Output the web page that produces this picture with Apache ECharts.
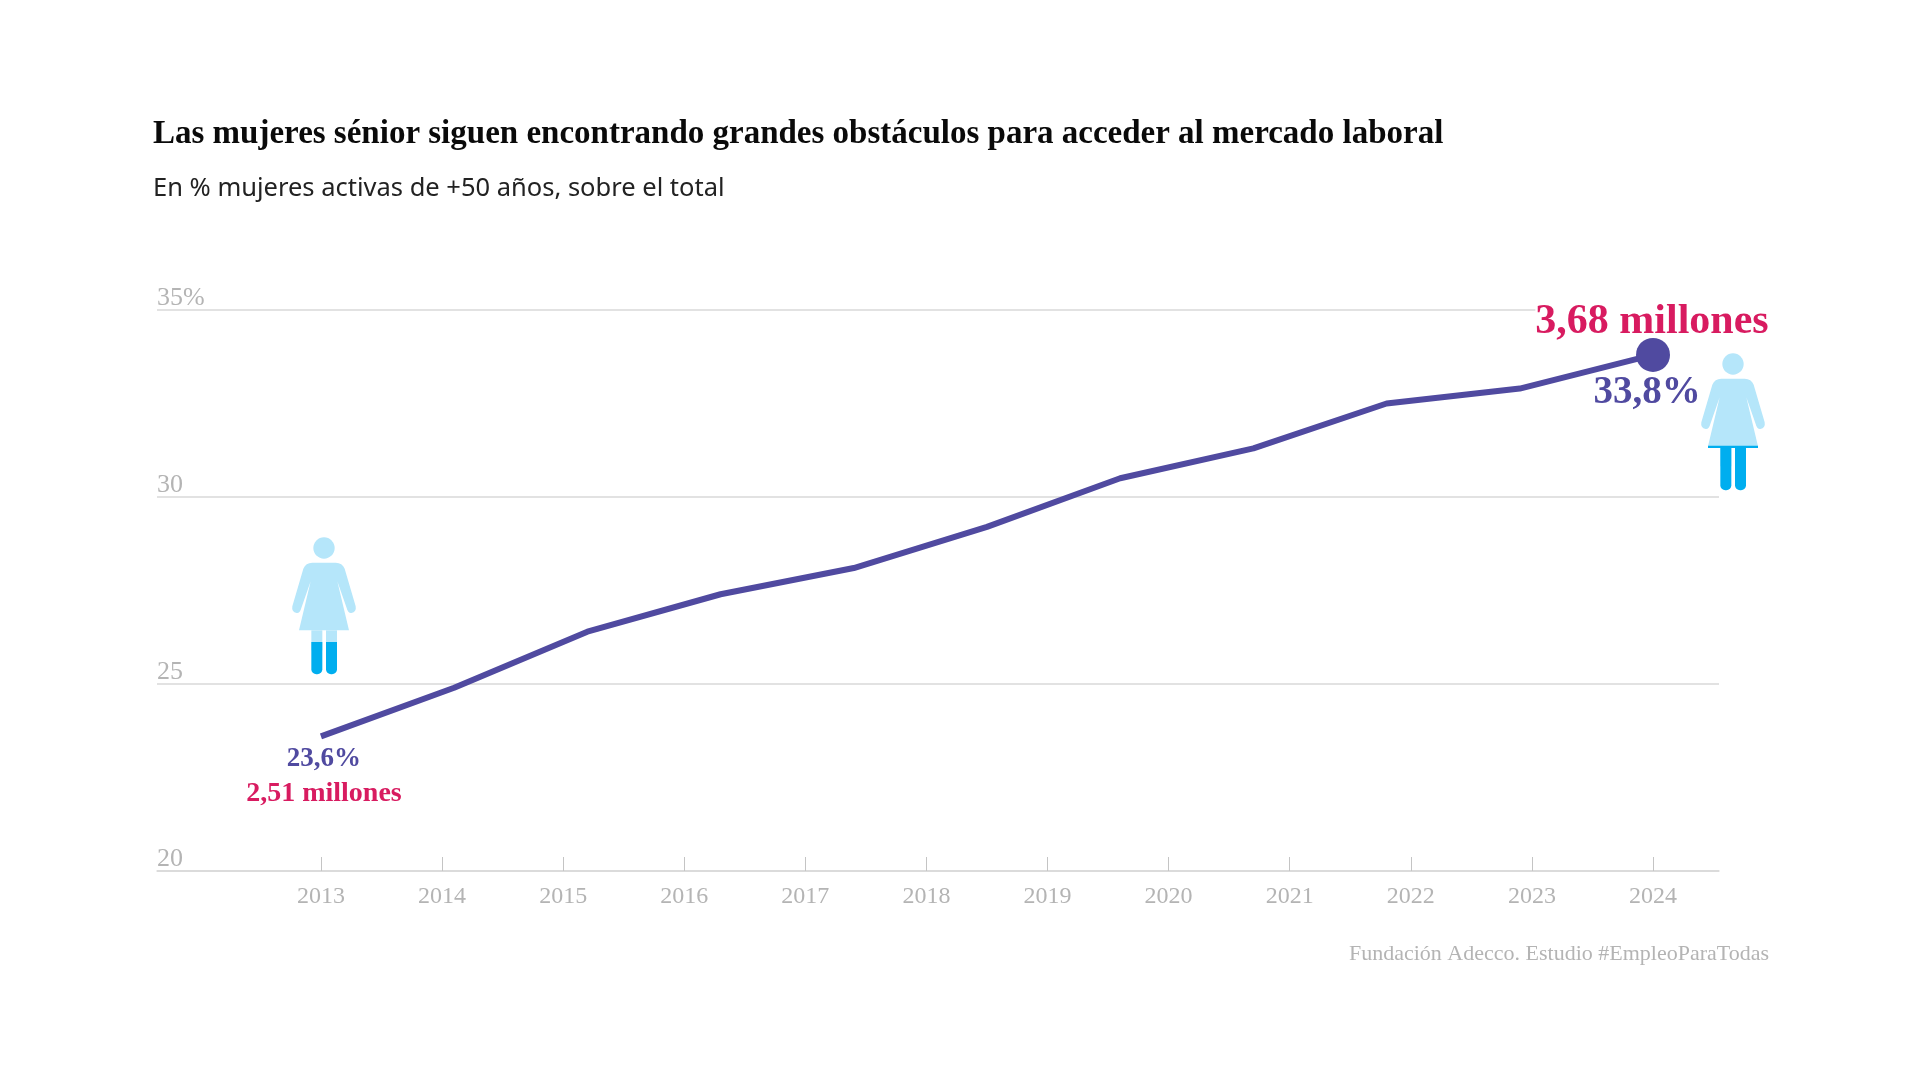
<!DOCTYPE html>
<html>
<head>
<meta charset="utf-8">
<title>Mujeres sénior</title>
<script src="https://cdn.jsdelivr.net/npm/echarts@6/dist/echarts.min.js"></script>
<style>
html, body { margin: 0; background: #fff; }
#main { width: 1920px; height: 1080px; }
</style>
</head>
<body>
<div id="main"></div>
<script type="text/javascript">
// Ticks del eje
var tickYears = [2013, 2014, 2015, 2016, 2017, 2018, 2019, 2020, 2021, 2022, 2023, 2024];
// La linea tiene 11 puntos repartidos entre 2013 y 2024, no caen sobre los ticks
var pointYears = [2013, 2014.1, 2015.2, 2016.3, 2017.4, 2018.5, 2019.6, 2020.7, 2021.8, 2022.9, 2024];
var shares = [23.6, 24.9, 26.4, 27.4, 28.1, 29.2, 30.5, 31.3, 32.5, 32.9, 33.8];

var endYears = [2013, 2024];
var endShares = [23.6, 33.8];
var endShareLabels = ['23,6%', '33,8%'];
var endMillions = ['2,51 millones', '3,68 millones'];

var PURPLE = '#504aa0';
var PINK = '#d81b60';
var GREY = '#b4b4b4';
var RULE = '#d9d9d9';
var LIGHT = '#b5e6fa';
var DARK = '#00aeef';
var SERIF = '"Liberation Serif", serif';

var dress = 'M-35 44 L35 44 Q55 44 62 62 L95 175 Q98 192 82 195 Q72 196 68 180 L40 100 L75 247 ' +
    'L-75 247 L-40 100 L-68 180 Q-72 196 -82 195 Q-98 192 -95 175 L-62 62 Q-55 44 -35 44 Z';
echarts.graphic.registerShape('dress', echarts.graphic.extendPath(dress, {}));

// Figura de mujer: las piernas se rellenan desde legFrom hasta abajo
function woman(x, y, legFrom, hem) {
    var kids = [
        { type: 'circle', shape: { cx: 0, cy: 0, r: 32 }, style: { fill: LIGHT } },
        { type: 'dress', style: { fill: LIGHT } }
    ];
    [-38, 6].forEach(function (left) {
        kids.push({ type: 'rect', shape: { x: left, y: 247, width: 33, height: 60 }, style: { fill: LIGHT } });
        kids.push({ type: 'rect', shape: { x: left, y: legFrom, width: 33, height: 379 - legFrom, r: [0, 0, 15, 15] }, style: { fill: DARK } });
    });
    if (hem) {
        kids.push({ type: 'rect', shape: { x: -75, y: 245, width: 150, height: 7 }, style: { fill: DARK } });
    }
    return { type: 'group', x: x, y: y, scaleX: 1 / 3, scaleY: 1 / 3, children: kids };
}

var myChart = echarts.init(document.getElementById('main'));

myChart.setOption({
    backgroundColor: '#fff',
    animation: false,
    title: [
        {
            text: 'Las mujeres sénior siguen encontrando grandes obstáculos para acceder al mercado laboral',
            left: 148, top: 113,
            textStyle: { fontFamily: SERIF, fontWeight: 'bold', fontSize: 33, color: '#0a0a0a' }
        },
        {
            text: 'En % mujeres activas de +50 años, sobre el total',
            left: 148, top: 171,
            textStyle: { fontFamily: '"Noto Sans", sans-serif', fontWeight: 'normal', fontSize: 25.5, color: '#222' }
        },
        {
            text: 'Fundación Adecco. Estudio #EmpleoParaTodas',
            right: 146, top: 938,
            textStyle: { fontFamily: SERIF, fontWeight: 'normal', fontSize: 22, color: GREY }
        }
    ],
    grid: { left: 157, right: 201, top: 310, bottom: 209 },
    xAxis: {
        type: 'value',
        min: 2011.646,
        max: 2024.545,
        splitLine: { show: false },
        axisLine: { lineStyle: { color: RULE, width: 1.5 } },
        axisTick: { inside: true, length: 14, customValues: tickYears, lineStyle: { color: '#c4c4c4', width: 1 } },
        axisLabel: {
            customValues: tickYears,
            margin: 14,
            formatter: function (v) { return String(v); },
            fontFamily: SERIF, fontSize: 24, color: GREY
        }
    },
    yAxis: {
        type: 'value',
        min: 20,
        max: 35,
        interval: 5,
        axisLine: { show: false },
        axisTick: { show: false },
        splitLine: { lineStyle: { color: RULE, width: 1.5 } },
        axisLabel: {
            inside: true,
            margin: 0,
            align: 'left',
            verticalAlign: 'bottom',
            lineHeight: 23,
            formatter: function (v) { return v === 35 ? '35%' : String(v); },
            fontFamily: SERIF, fontSize: 26, color: GREY
        }
    },
    series: [
        {
            type: 'line',
            data: pointYears.map(function (y, i) { return [y, shares[i]]; }),
            showSymbol: false,
            smooth: false,
            lineStyle: { color: PURPLE, width: 6, cap: 'butt', join: 'round' },
            z: 3
        },
        {
            // Punto final y etiqueta de millones
            type: 'scatter',
            data: endYears.map(function (y, i) {
                return {
                    value: [y, endShares[i]],
                    symbolSize: i === 0 ? 0 : 34,
                    label: {
                        formatter: endMillions[i],
                        fontSize: i === 0 ? 28 : 42,
                        lineHeight: i === 0 ? 30 : 32,
                        offset: i === 0 ? [3, 57] : [-1, -33],
                        backgroundColor: i === 0 ? 'transparent' : '#fff'
                    }
                };
            }),
            itemStyle: { color: PURPLE, opacity: 1 },
            label: {
                show: true, position: 'inside', align: 'center', verticalAlign: 'middle',
                fontFamily: SERIF, fontWeight: 'bold', color: PINK
            },
            z: 4
        },
        {
            // Etiqueta de porcentaje
            type: 'scatter',
            data: endYears.map(function (y, i) {
                return {
                    value: [y, endShares[i]],
                    label: {
                        formatter: endShareLabels[i],
                        fontSize: i === 0 ? 27 : 39,
                        offset: i === 0 ? [3, 23] : [-6, 38]
                    }
                };
            }),
            symbolSize: 1,
            itemStyle: { color: 'transparent', opacity: 1 },
            label: {
                show: true, position: 'inside', align: 'center', verticalAlign: 'middle',
                fontFamily: SERIF, fontWeight: 'bold', color: PURPLE
            },
            z: 4
        }
    ],
    graphic: [
        woman(324, 548, 282, false),
        woman(1733, 364, 252, true)
    ]
});
</script>
</body>
</html>
